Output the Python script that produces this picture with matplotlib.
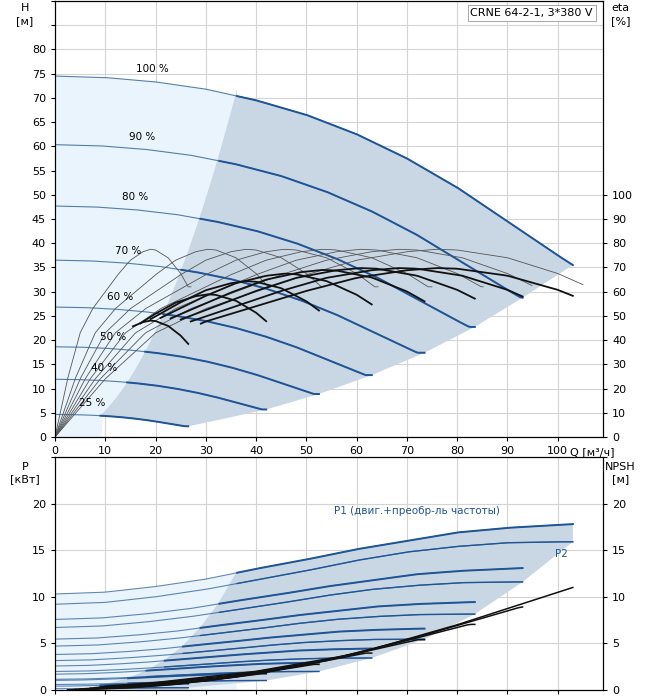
import numpy as np
import matplotlib
matplotlib.use("Agg")
import matplotlib.pyplot as plt

# ---- data ----
speeds = [1.00, 0.90, 0.80, 0.70, 0.60, 0.50, 0.40, 0.25]
speed_labels = ["100 %", "90 %", "80 %", "70 %", "60 %", "50 %", "40 %", "25 %"]
label_q = [19.3, 17.3, 16.0, 14.5, 13.0, 11.5, 9.7, 7.3]
q_end = [103, 93, 83.5, 73.5, 63, 52.5, 42, 26.5]
# base 100% head curve
q_base = [0, 10, 20, 30, 40, 50, 60, 70, 80, 90, 100, 103]
h_base = [74.5, 74.2, 73.3, 71.8, 69.5, 66.5, 62.5, 57.5, 51.5, 44.5, 37.5, 35.5]
# pump efficiency base (Q/n -> eta %)
qe_base = [0, 10, 20, 30, 40, 50, 60, 70, 76, 80, 90, 100, 106]
eta_base = [0, 24, 43, 53, 60, 67, 73, 76.5, 77.5, 77.2, 74, 67.5, 62]
# total efficiency factors and start flows per speed
eta_tot_factor = [0.90, 0.90, 0.90, 0.89, 0.87, 0.83, 0.76, 0.62]
eta_tot_start = [29, 27, 25, 23, 21, 19, 17, 15.5]
# power curves 100%
p1_base = [10.3, 10.5, 11.1, 11.9, 13.0, 14.0, 15.1, 16.0, 16.9, 17.4, 17.7, 17.8]
p2_base = [9.2, 9.4, 10.0, 10.8, 11.8, 12.8, 13.9, 14.8, 15.4, 15.8, 15.9, 15.9]
p1_factor = [1.0, 0.735, 0.53, 0.37, 0.25, 0.165, 0.10, 0.04]
# NPSH base
qn_base = [10, 20, 40, 60, 80, 103]
npsh_base = [0.4, 0.8, 2.0, 3.9, 7.0, 11.0]

def interp(q, xs, ys):
    return np.interp(q, xs, ys)

fig = plt.figure(figsize=(6.58, 7.0), dpi=100)
L, R = 55/658, 603/658
ax = fig.add_axes([L, 1-437/700, R-L, 436/700])
bx = fig.add_axes([L, 1-690/700, R-L, 233/700])
XMAX = 109
LIGHT = "#eaf4fd"
DARK = "#c9d6e3"
BLUE = "#1f5596"
GRID = "#d4d4d4"

def head(n, q):
    return n**2 * interp(q/n, q_base, h_base)

k_left = 0.0548
k_sys = 0.0034
# ---- top shaded regions ----
qq = np.linspace(0, 36.5, 200)
lower = np.where(qq < 9.3, 0, np.where(qq <= 26.5, head(0.25, np.minimum(qq, 26.5)), k_sys*qq**2))
ax.fill_between(qq, lower, head(1, qq), color=LIGHT, lw=0, zorder=1)
ql = np.linspace(9.3, 36.2, 60)
left = list(zip(ql, k_left*ql**2))
top = [(q, head(1, q)) for q in np.linspace(36.2, 103, 80)]
right = [(qe, head(n, qe)) for n, qe in zip(speeds, q_end)]
bot25 = [(q, head(0.25, q)) for q in np.linspace(26.5, 9.3, 30)]
poly = left + top + right[1:] + bot25
px, py = zip(*poly)
ax.fill(px, py, color=DARK, lw=0, zorder=2)

# ---- speed curves ----
for n, lab, qe, lq in zip(speeds, speed_labels, q_end, label_q):
    q = np.linspace(0, qe, 200)
    h = head(n, q)
    ax.plot(q, h, color=BLUE, lw=0.8, alpha=0.75, zorder=4)
    m = h <= k_left*q**2
    ax.plot(q[m], h[m], color=BLUE, lw=1.4, zorder=5)
    ax.text(lq, head(n, lq) + 1.5, lab, fontsize=7.5, ha="center", va="bottom", zorder=8)

# ---- efficiency curves (on H scale: eta/2) ----
for n, qe, f, qs in zip(speeds, q_end, eta_tot_factor, eta_tot_start):
    q = np.linspace(0, min(qe*1.02, 105), 200)
    e = interp(q/n, qe_base, eta_base)
    ax.plot(q, e/2, color="#555555", lw=0.6, zorder=6)
    q2 = np.linspace(qs, qe, 100)
    e2 = interp(q2/n, qe_base, eta_base) * f
    ax.plot(q2, e2/2, color="#111111", lw=1.3, zorder=7)

ax.set_xlim(0, XMAX)
ax.set_ylim(0, 90)
ax.set_xticks(range(0, 101, 10))
ax.set_yticks(range(0, 91, 5))
ax.set_yticklabels([str(v) if v <= 80 else "" for v in range(0, 91, 5)])
ax.grid(True, color=GRID, lw=0.8, zorder=0)
ax.set_axisbelow(True)
ax.tick_params(labelsize=8, length=3)
ax.text(-6, 89.5, "H\n[м]", fontsize=8, ha="center", va="top", linespacing=1.3)
ax.text(112.5, 89.5, "eta\n[%]", fontsize=8, ha="center", va="top", linespacing=1.3, clip_on=False)
ax.text(102.5, -3.2, "Q [м³/ч]", fontsize=8, ha="left", va="center")
ax.text(107, 88.5, "CRNE 64-2-1, 3*380 V", fontsize=8, ha="right", va="top",
        bbox=dict(facecolor="white", edgecolor="#999999", lw=0.6, pad=2))
ay = ax.twinx()
ay.set_ylim(0, 180)
ay.set_yticks(range(0, 101, 10))
ay.tick_params(labelsize=8, length=3)

# ---- bottom ----
def p1(i, q):
    n = speeds[i]
    return p1_factor[i] * interp(q/n, q_base, p1_base)

def p2(i, q):
    n = speeds[i]
    return n**3 * interp(q/n, q_base, p2_base)

qq = np.linspace(0, 36, 200)
bx.fill_between(qq, 0, p1(0, qq), color=LIGHT, lw=0, zorder=1)
left = [(speeds[i]*36, p1(i, speeds[i]*36)) for i in range(len(speeds))][::-1]
top = [(q, p1(0, q)) for q in np.linspace(36, 103, 60)]
right = [(q_end[i], p2(i, q_end[i])) for i in range(len(speeds))]
poly = [(0.25*36*0.7, 0)] + left + top + right + [(26.5, 0)]
px, py = zip(*poly)
bx.fill(px, py, color=DARK, lw=0, zorder=2)

for i, (n, qe) in enumerate(zip(speeds, q_end)):
    q = np.linspace(0, qe, 200)
    for fn, lw in ((p1, 1.4), (p2, 1.0)):
        pv = fn(i, q)
        bx.plot(q, pv, color=BLUE, lw=0.8, alpha=0.7, zorder=4)
        m = q >= n*36
        bx.plot(q[m], pv[m], color=BLUE, lw=lw, zorder=5)
    qn = np.linspace(10*n, qe, 100)
    bx.plot(qn, n**2 * interp(qn/n, qn_base, npsh_base), color="#111111", lw=1.1, zorder=6)

bx.text(72, 18.7, "P1 (двиг.+преобр-ль частоты)", color=BLUE, fontsize=7.5, ha="center", va="bottom")
bx.text(102, 14.6, "P2", color=BLUE, fontsize=7.5, ha="right", va="center")
bx.set_xlim(0, XMAX)
bx.set_ylim(0, 25)
bx.set_xticks(range(0, 101, 10))
bx.set_xticklabels([])
bx.set_yticks(range(0, 26, 5))
bx.set_yticklabels(["0", "5", "10", "15", "20", ""])
bx.grid(True, color=GRID, lw=0.8, zorder=0)
bx.set_axisbelow(True)
bx.tick_params(labelsize=8, length=3)
bx.text(-6, 24.5, "P\n[кВт]", fontsize=8, ha="center", va="top", linespacing=1.3)
bx.text(112.5, 24.5, "NPSH\n[м]", fontsize=8, ha="center", va="top", linespacing=1.3, clip_on=False)
by = bx.twinx()
by.set_ylim(0, 25)
by.set_yticks(range(0, 26, 5))
by.set_yticklabels(["0", "5", "10", "15", "20", ""])
by.tick_params(labelsize=8, length=3)

fig.savefig("out.png", dpi=100)
